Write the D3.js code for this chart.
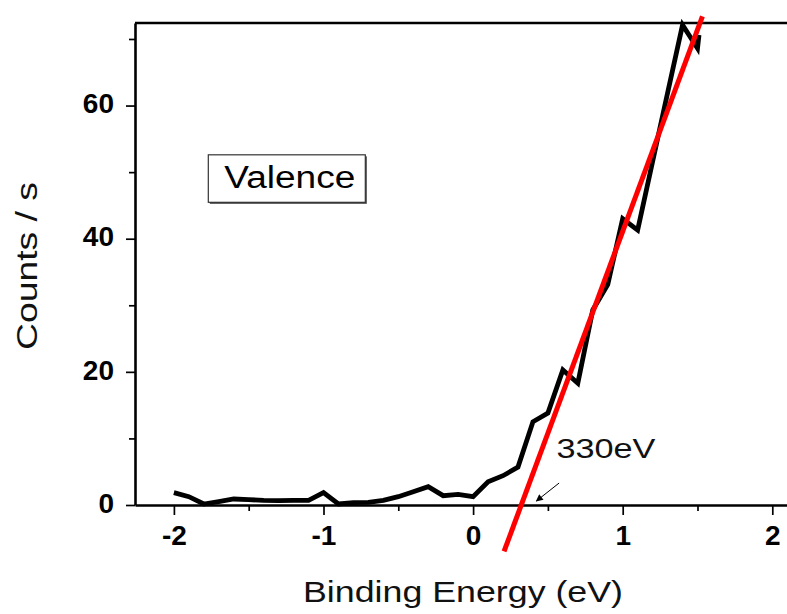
<!DOCTYPE html>
<html>
<head>
<meta charset="utf-8">
<script src="https://cdn.jsdelivr.net/npm/d3@7"></script>
<style>
  html, body { margin: 0; padding: 0; background: #fff; }
  svg { display: block; }
  text { font-family: "Liberation Sans", Arial, Helvetica, sans-serif; }
</style>
</head>
<body>
<svg id="chart" width="787" height="614"></svg>
<script>
// Valence band spectrum: binding energy (eV) vs counts per second
const energy = [-2.0, -1.9, -1.8, -1.7, -1.6, -1.5, -1.4, -1.3, -1.2, -1.1,
                -1.0, -0.9, -0.8, -0.7, -0.6, -0.5, -0.4, -0.3, -0.2, -0.1,
                 0.0,  0.1,  0.2,  0.3,  0.4,  0.5,  0.6,  0.7,  0.8,  0.9,
                 1.0,  1.1,  1.2,  1.3,  1.4,  1.5,  1.51];
const counts = [1.85, 1.25, 0.15, 0.5, 0.9, 0.8, 0.7, 0.65, 0.7, 0.7,
                1.85, 0.15, 0.35, 0.4, 0.7, 1.25, 2.0, 2.75, 1.4, 1.6,
                1.25, 3.5, 4.4, 5.7, 12.5, 13.8, 20.3, 18.3, 29.3, 33.1,
                43.0, 41.3, 51.6, 61.9, 72.1, 68.6, 70.6];

// Linear fit of the leading edge: counts = slope * (E - onset)
const fitOnset = 0.322;
const fitSlope = 60.6;
const fitRange = [0.207, 1.533];

const xTicks = [-2, -1, 0, 1, 2];
const xMinorTicks = [-1.5, -0.5, 0.5, 1.5];
const yTicks = [0, 20, 40, 60];
const yMinorTicks = [10, 30, 50, 70];

const xDomain = [-2.26, 2.35];
const yDomain = [0, 72.4];

const svg = d3.select("#chart");
const plotLeft = 135, plotTop = 23, plotBottom = 505;
const unit = 149.6;

const x = d3.scaleLinear().domain(xDomain)
  .range([plotLeft, plotLeft + (xDomain[1] - xDomain[0]) * unit]);
const y = d3.scaleLinear().domain(yDomain).range([plotBottom, plotTop]);

const tickFont = "bold 28px 'Liberation Sans', Arial, sans-serif";

// Top frame line
svg.append("line")
  .attr("x1", plotLeft).attr("x2", x.range()[1])
  .attr("y1", plotTop).attr("y2", plotTop)
  .attr("stroke", "#000").attr("stroke-width", 2.6);

// Bottom axis: major + minor ticks
const xAxis = svg.append("g").attr("transform", `translate(0,${plotBottom})`)
  .call(d3.axisBottom(x).tickValues(xTicks).tickSizeInner(10).tickSizeOuter(0)
        .tickPadding(10).tickFormat(d3.format("d")));
xAxis.select(".domain").attr("stroke-width", 2.6);
xAxis.selectAll(".tick line").attr("stroke-width", 1.7);
xAxis.selectAll("text").style("font", tickFont).attr("fill", "#000");
xAxis.selectAll(".tick text").text(d => d < 0 ? "-" + Math.abs(d) : d);

const xMinor = svg.append("g").attr("transform", `translate(0,${plotBottom})`)
  .call(d3.axisBottom(x).tickValues(xMinorTicks).tickSize(6).tickFormat(""));
xMinor.select(".domain").remove();
xMinor.selectAll(".tick line").attr("stroke-width", 1.7);

// Left axis: major + minor ticks
const yAxis = svg.append("g").attr("transform", `translate(${plotLeft},0)`)
  .call(d3.axisLeft(y).tickValues(yTicks).tickSizeInner(9).tickSizeOuter(0)
        .tickPadding(12).tickFormat(d3.format("d")));
yAxis.select(".domain").attr("stroke-width", 2.6);
yAxis.selectAll(".tick line").attr("stroke-width", 1.7);
yAxis.selectAll("text").style("font", tickFont).attr("fill", "#000").attr("dy", "0.26em");

const yMinor = svg.append("g").attr("transform", `translate(${plotLeft},0)`)
  .call(d3.axisLeft(y).tickValues(yMinorTicks).tickSize(6).tickFormat(""));
yMinor.select(".domain").remove();
yMinor.selectAll(".tick line").attr("stroke-width", 1.7);

// Spectrum trace
const pts = energy.map((e, i) => [e, counts[i]]);
svg.append("path")
  .datum(pts)
  .attr("fill", "none")
  .attr("stroke", "#000")
  .attr("stroke-width", 4.8)
  .attr("stroke-linejoin", "miter")
  .attr("d", d3.line().x(d => x(d[0])).y(d => y(d[1])));

// Edge fit line
const fitPts = fitRange.map(e => [e, fitSlope * (e - fitOnset)]);
svg.append("path")
  .datum(fitPts)
  .attr("fill", "none")
  .attr("stroke", "#ff0000")
  .attr("stroke-width", 5)
  .attr("d", d3.line().x(d => x(d[0])).y(d => y(d[1])));

// Onset annotation
const defs = svg.append("defs");
defs.append("marker")
  .attr("id", "arrowhead")
  .attr("viewBox", "0 0 10 10")
  .attr("refX", 9).attr("refY", 5)
  .attr("markerWidth", 9).attr("markerHeight", 7)
  .attr("markerUnits", "userSpaceOnUse")
  .attr("orient", "auto")
  .append("path").attr("d", "M0,0 L10,5 L0,10 Z").attr("fill", "#000");

svg.append("line")
  .attr("x1", x(0.575)).attr("y1", y(3.3))
  .attr("x2", x(0.423)).attr("y2", y(0.6))
  .attr("stroke", "#000").attr("stroke-width", 1)
  .attr("marker-end", "url(#arrowhead)");

svg.append("text")
  .attr("x", x(0.557)).attr("y", y(7.0))
  .attr("font-size", 28).attr("fill", "#111")
  .attr("textLength", 99).attr("lengthAdjust", "spacingAndGlyphs")
  .text("330eV");

// Label box
const boxX = x(-1.77), boxY = y(52.6);
svg.append("rect")
  .attr("x", boxX + 1.5).attr("y", boxY + 1.5)
  .attr("width", 157).attr("height", 47.5)
  .attr("fill", "#444");
svg.append("rect")
  .attr("x", boxX).attr("y", boxY)
  .attr("width", 157).attr("height", 47.5)
  .attr("fill", "#fff").attr("stroke", "#333").attr("stroke-width", 1.2);
svg.append("text")
  .attr("x", boxX + 16).attr("y", boxY + 33)
  .attr("font-size", 31).attr("fill", "#000")
  .attr("textLength", 131).attr("lengthAdjust", "spacingAndGlyphs")
  .text("Valence");

// Axis titles
svg.append("text")
  .attr("x", 463).attr("y", 602)
  .attr("text-anchor", "middle")
  .attr("font-size", 29).attr("fill", "#111")
  .attr("textLength", 320).attr("lengthAdjust", "spacingAndGlyphs")
  .text("Binding Energy (eV)");

svg.append("text")
  .attr("transform", "translate(36.5,266) rotate(-90)")
  .attr("text-anchor", "middle")
  .attr("font-size", 29).attr("fill", "#111")
  .attr("textLength", 168).attr("lengthAdjust", "spacingAndGlyphs")
  .text("Counts / s");
</script>
</body>
</html>
